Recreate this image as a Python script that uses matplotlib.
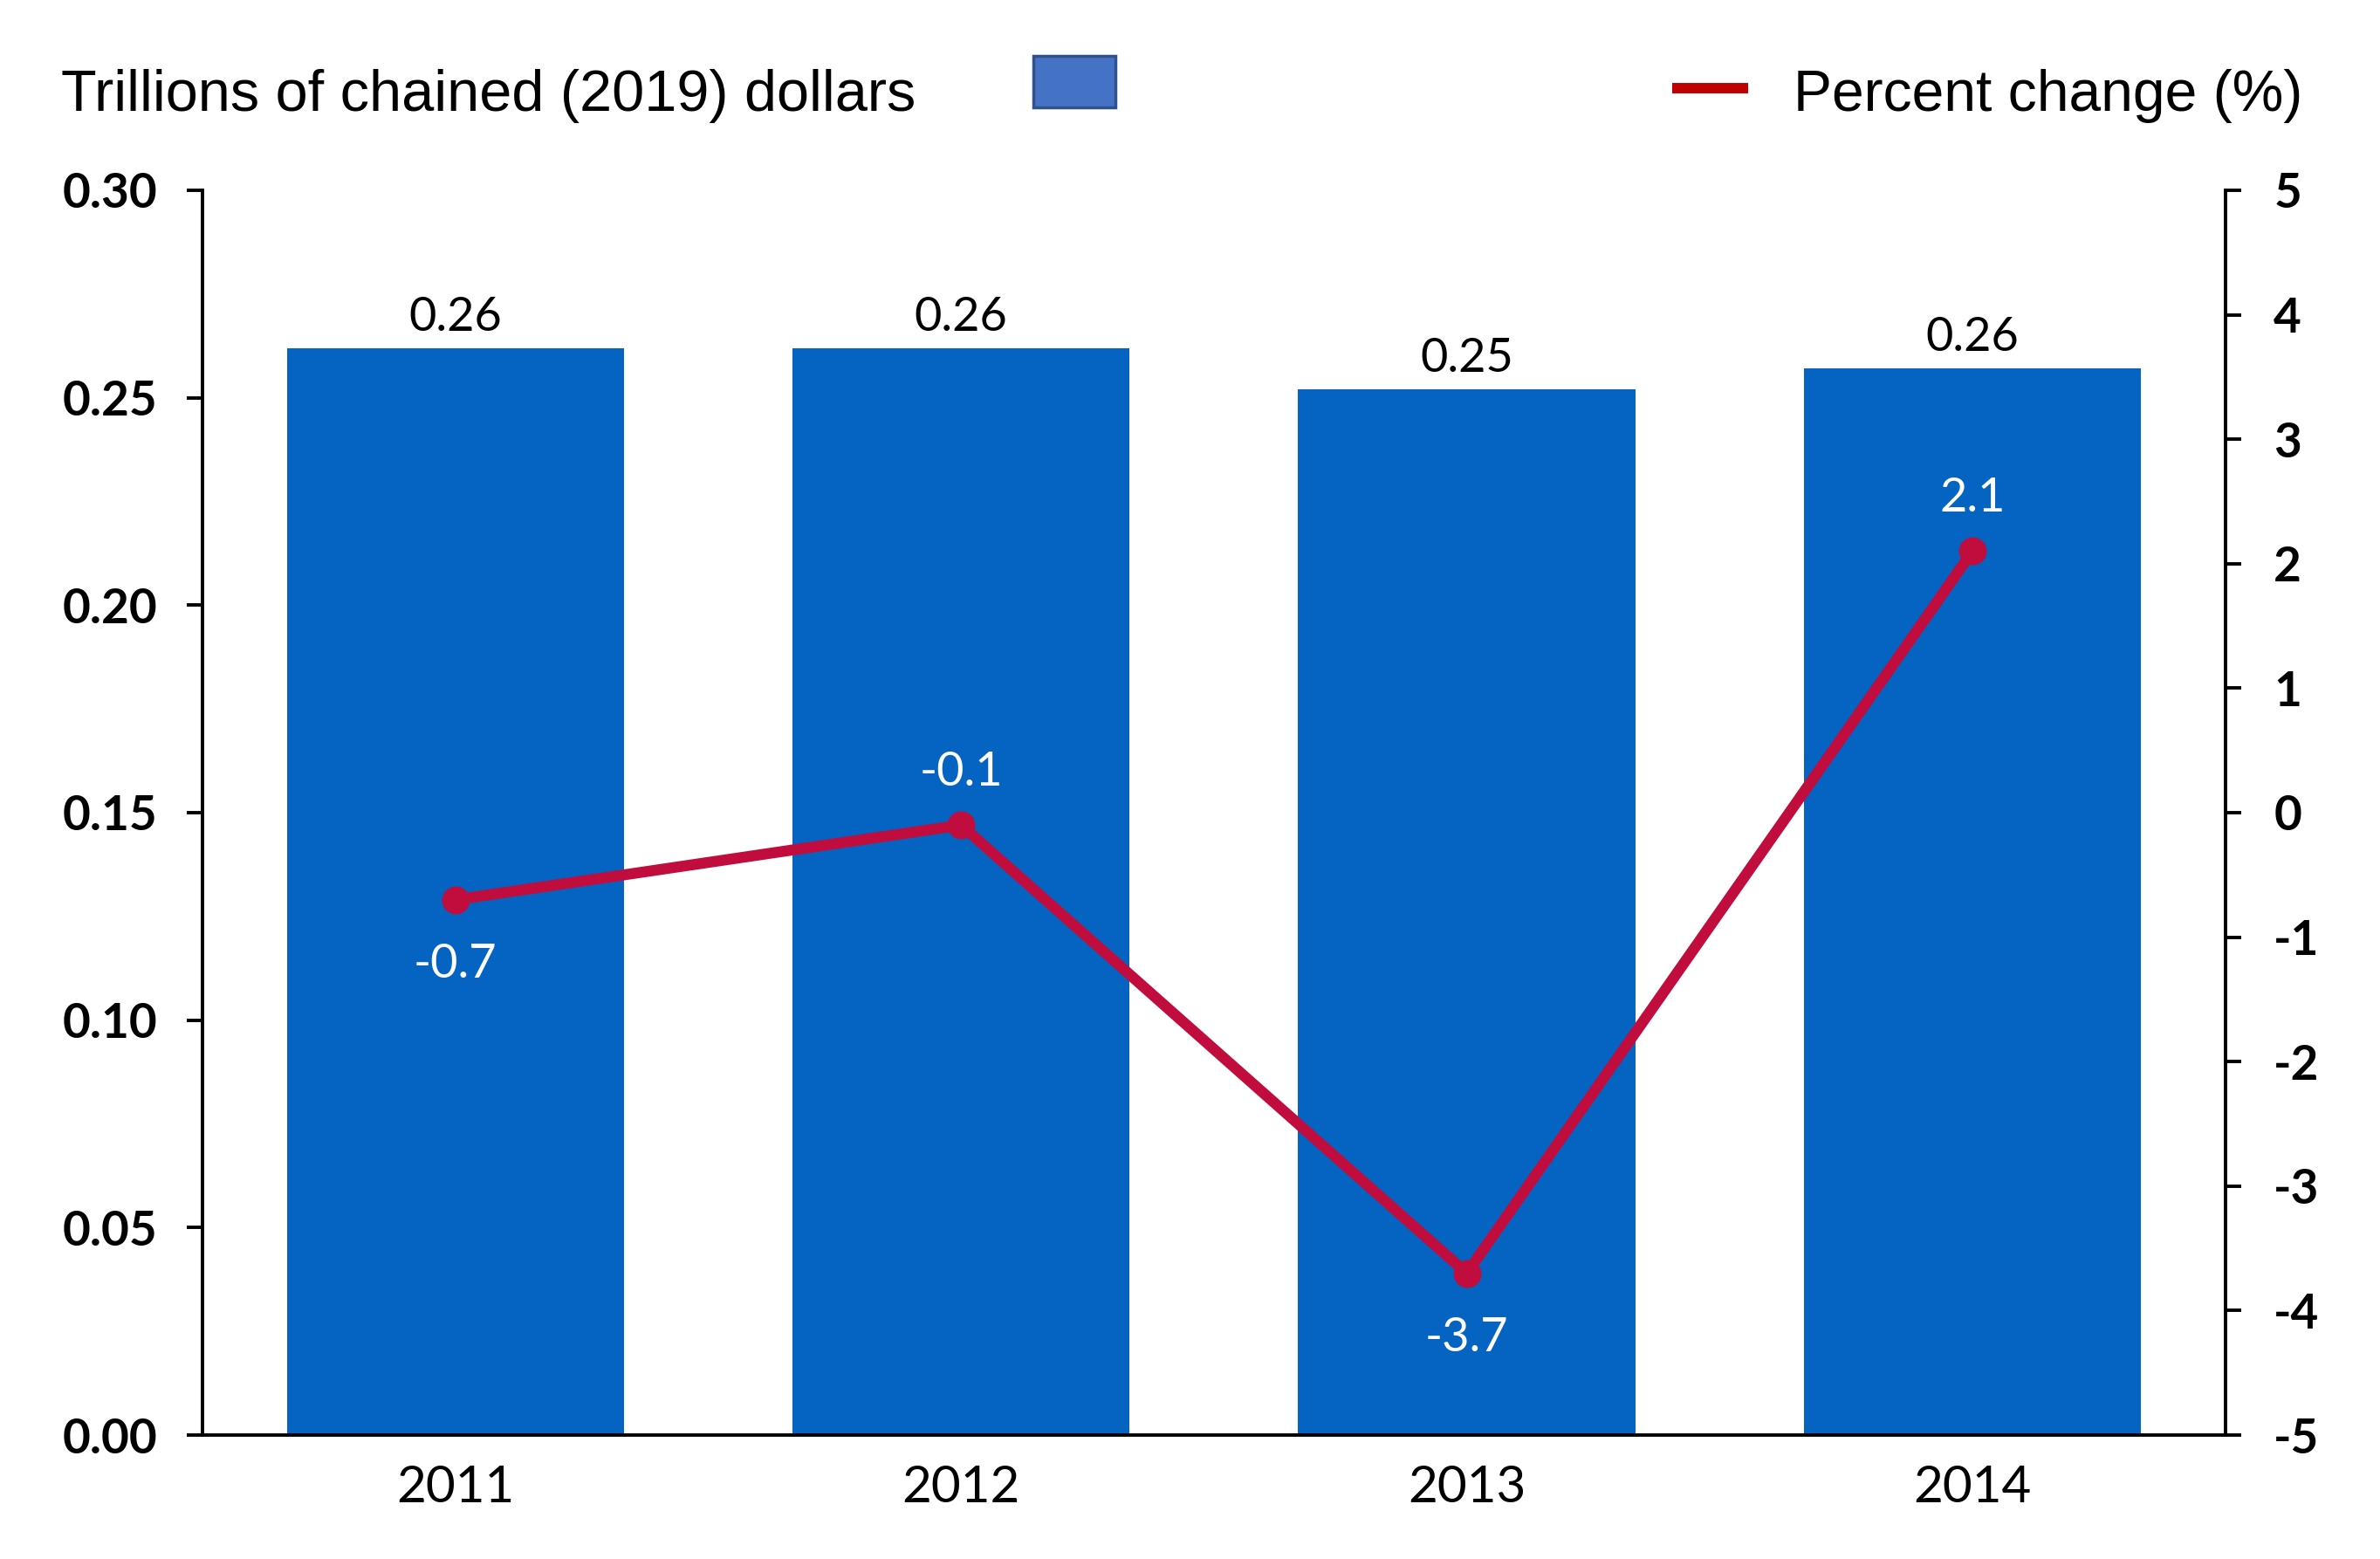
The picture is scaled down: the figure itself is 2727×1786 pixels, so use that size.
import matplotlib
matplotlib.use("Agg")
import matplotlib.pyplot as plt
from matplotlib.patches import Rectangle
from matplotlib.lines import Line2D

years = ["2011", "2012", "2013", "2014"]
gdp_trillions = [0.262, 0.262, 0.252, 0.257]
gdp_labels = ["0.26", "0.26", "0.25", "0.26"]
pct_change = [-0.7, -0.1, -3.7, 2.1]
pct_labels = ["-0.7", "-0.1", "-3.7", "2.1"]
pct_label_pos = ["below", "above", "below", "above"]
left_ticks = [0.00, 0.05, 0.10, 0.15, 0.20, 0.25, 0.30]
right_ticks = [-5, -4, -3, -2, -1, 0, 1, 2, 3, 4, 5]

BAR = "#0563C1"
LINE = "#C00D3E"

fig = plt.figure(figsize=(27.27, 17.86), dpi=100)
L, R, B, T = 0.0851, 0.935, 0.0795, 0.878
ax = fig.add_axes([L, B, R - L, T - B])
ax2 = ax.twinx()

x = list(range(len(years)))
ax.bar(x, gdp_trillions, width=0.667, color=BAR, zorder=2)
ax.set_xlim(-0.5, 3.5)
ax.set_ylim(0, 0.30)
ax.set_yticks(left_ticks)
ax.set_yticklabels([f"{t:.2f}" for t in left_ticks], fontfamily="Lato", fontweight="bold", fontsize=39.5)
ax.set_xticks(x)
ax.set_xticklabels(years, fontfamily="Lato", fontsize=42)
ax.tick_params(axis="x", length=0, pad=24.5)
ax.tick_params(axis="y", length=13, width=2.8, direction="out", pad=24)

for xi, v, lab in zip(x, gdp_trillions, gdp_labels):
    ax.annotate(lab, (xi, v), xytext=(0, 25.5), textcoords="offset points",
                ha="center", va="center", fontfamily="Lato", fontsize=39, color="black")

ax2.plot(x, pct_change, color=LINE, lw=9, marker="o", markersize=22, zorder=3)
ax2.set_ylim(-5, 5)
ax2.set_yticks(right_ticks)
ax2.set_yticklabels([str(t) for t in right_ticks], fontfamily="Lato", fontweight="bold", fontsize=39.5)
ax2.tick_params(axis="y", length=13, width=2.8, direction="out", pad=27)

for xi, v, lab, pos in zip(x, pct_change, pct_labels, pct_label_pos):
    off = -53 if pos == "below" else 44
    ax2.annotate(lab, (xi, v), xytext=(0, off), textcoords="offset points",
                 ha="center", va="center", fontfamily="Lato", fontsize=39, color="white")

for a in (ax, ax2):
    a.spines["top"].set_visible(False)
    for s in ("left", "right", "bottom"):
        a.spines[s].set_linewidth(2.8)
        a.spines[s].set_color("black")
ax.spines["right"].set_visible(False)
ax2.spines["left"].set_visible(False)
ax2.spines["bottom"].set_visible(False)

# legend-like header
fig.text(0.0257, 1 - 127 / 1786, "Trillions of chained (2019) dollars", fontfamily="Liberation Sans",
         fontsize=48, ha="left", va="baseline")
fig.patches.append(Rectangle((0.4342, 1 - 123 / 1786), 0.0345, 59 / 1786, transform=fig.transFigure,
                             facecolor="#4472C4", edgecolor="#2F528F", lw=2.5))
fig.lines.append(Line2D([0.7027, 0.7345], [1 - 101 / 1786, 1 - 101 / 1786], transform=fig.transFigure,
                        color="#C00000", lw=8.6, solid_capstyle="butt"))
fig.text(0.7537, 1 - 127 / 1786, "Percent change (%)", fontfamily="Liberation Sans",
         fontsize=47.5, ha="left", va="baseline")

fig.savefig("out.png", dpi=100)
